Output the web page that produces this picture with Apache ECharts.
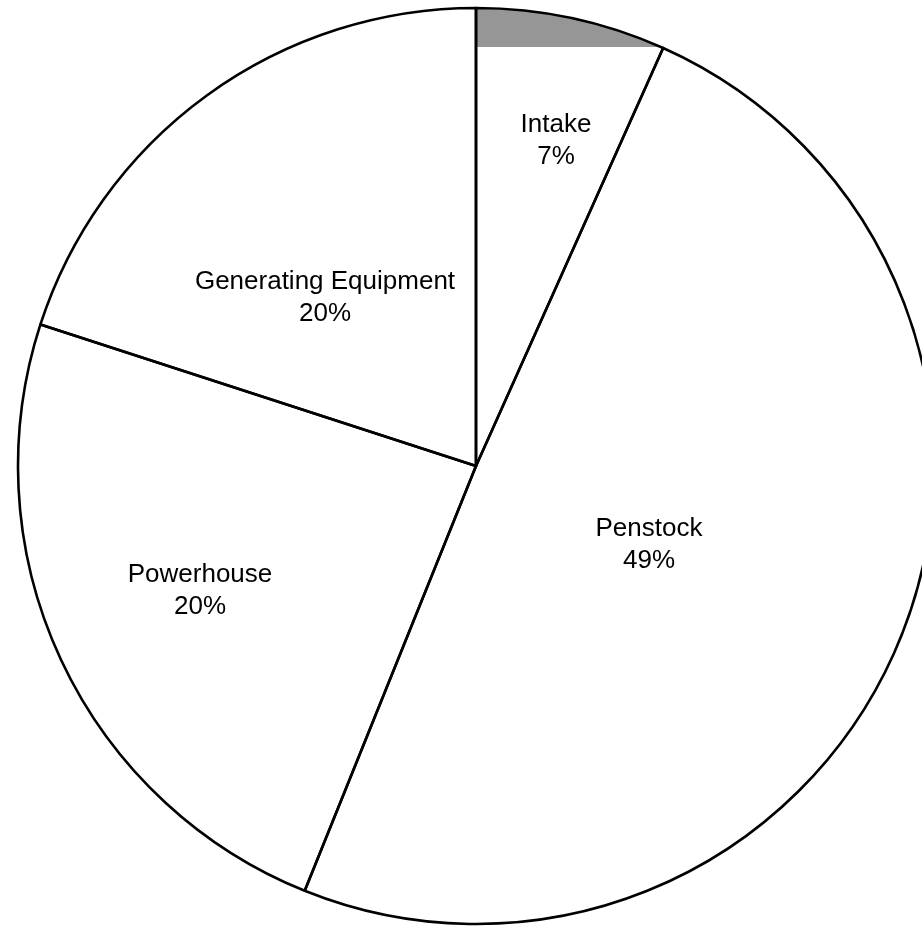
<!DOCTYPE html>
<html>
<head>
<meta charset="utf-8">
<script src="https://cdn.jsdelivr.net/npm/echarts@6/dist/echarts.min.js"></script>
<style>
html,body{margin:0;padding:0;background:#fff;}
#chart{width:922px;height:926px;}
</style>
</head>
<body>
<div id="chart"></div>
<script>
// ---- data ----
const categories = ['Intake', 'Penstock', 'Powerhouse', 'Generating Equipment'];
const values = [6.7, 49.4, 23.9, 20.0];
const percentLabels = ['7%', '49%', '20%', '20%'];

// ---- layout / style ----
const CX = 476, CY = 466, R = 458;
const labelOffset = [[80, -325], [173, 79], [-276, 125], [-151, -168]];
const bandBottom = 47;
const fills = ['#969696', '#ffffff', '#ffffff', '#ffffff'];

const chart = echarts.init(document.getElementById('chart'), null, {renderer: 'canvas'});

const fillData = categories.map((c, i) => ({name: c, value: values[i], itemStyle: {color: fills[i]}}));
const lineData = categories.map((c, i) => ({name: c, value: values[i]}));

chart.setOption({
  animation: false,
  backgroundColor: '#ffffff',
  graphic: [{
    type: 'rect',
    z: 5,
    silent: true,
    shape: {x: 0, y: bandBottom, width: 922, height: 926 - bandBottom},
    style: {fill: '#ffffff'}
  }],
  series: [
    {
      type: 'pie',
      z: 1,
      silent: true,
      center: [CX, CY],
      radius: [0, R],
      startAngle: 90,
      clockwise: true,
      avoidLabelOverlap: false,
      label: {show: false},
      labelLine: {show: false},
      itemStyle: {borderWidth: 0},
      emphasis: {disabled: true},
      data: fillData
    },
    {
      type: 'pie',
      z: 10,
      silent: true,
      center: [CX, CY],
      radius: [0, R],
      startAngle: 90,
      clockwise: true,
      avoidLabelOverlap: false,
      itemStyle: {color: 'rgba(0,0,0,0)', borderColor: '#000000', borderWidth: 2.6},
      emphasis: {disabled: true},
      label: {
        show: true,
        position: 'inside',
        color: '#000000',
        fontFamily: 'Liberation Sans, Arial, sans-serif',
        fontSize: 26,
        lineHeight: 32,
        align: 'center',
        verticalAlign: 'middle',
        formatter: p => p.name + '\n' + percentLabels[p.dataIndex]
      },
      labelLine: {show: false},
      labelLayout: function (params) {
        const o = labelOffset[params.dataIndex];
        return {x: CX + o[0], y: CY + o[1], align: 'center', verticalAlign: 'middle'};
      },
      data: lineData
    }
  ]
});
</script>
</body>
</html>
